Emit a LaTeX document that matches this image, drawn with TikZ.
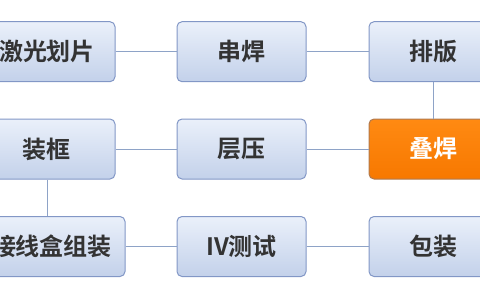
\documentclass[tikz,border=0pt]{standalone}
\usepackage{fontspec}
\newfontfamily\cjk{Noto Sans CJK SC}[BoldFont={Noto Sans CJK SC Bold}]
\definecolor{boxtop}{HTML}{EAF0FA}
\definecolor{boxbot}{HTML}{C3D1EA}
\definecolor{boxline}{HTML}{8297C6}
\definecolor{linkline}{HTML}{8EA3C7}
\definecolor{txt}{HTML}{333333}
\definecolor{hitop}{HTML}{FF8A12}
\definecolor{hibot}{HTML}{F77800}
\definecolor{hiline}{HTML}{B07A50}

\begin{document}
\begin{tikzpicture}[x=1pt, y=-1pt,
  every node/.style={font=\cjk\bfseries\fontsize{24}{26}\selectfont},
  stepbox/.style={draw=boxline, line width=1pt, rounded corners=5pt,
    top color=boxtop, bottom color=boxbot, text=txt,
    minimum width=129pt, minimum height=60pt, inner sep=0pt},
  hibox/.style={stepbox, draw=hiline, top color=hitop, bottom color=hibot, text=white},
  link/.style={draw=linkline, line width=1pt}]
  \useasboundingbox (0,0) rectangle (480,300);
  \clip (0,0) rectangle (480,300);

  % Row 1
  \node[stepbox, minimum width=136pt] (laser) at (47,51.7) {激光划片};
  \node[stepbox] (string) at (241.5,51.7) {串焊};
  \node[stepbox] (layup) at (433.5,51.7) {排版};
  % Row 2
  \node[stepbox, minimum width=136pt] (frame) at (47,149) {装框};
  \node[stepbox] (laminate) at (241.5,149) {层压};
  \node[hibox] (stack) at (433.5,149) {叠焊};
  % Row 3
  \node[stepbox, minimum width=146pt] (jbox) at (52,246.5) {接线盒组装};
  \node[stepbox] (ivtest) at (241.5,246.5) {IV测试};
  \node[stepbox] (pack) at (433.5,246.5) {包装};

  % Links
  \draw[link] (laser) -- (string);
  \draw[link] (string) -- (layup);
  \draw[link] (layup) -- (stack);
  \draw[link] (stack) -- (laminate);
  \draw[link] (laminate) -- (frame);
  \draw[link] (frame.south -| 47,0) -- (jbox.north -| 47,0);
  \draw[link] (jbox) -- (ivtest);
  \draw[link] (ivtest) -- (pack);
\end{tikzpicture}
\end{document}
